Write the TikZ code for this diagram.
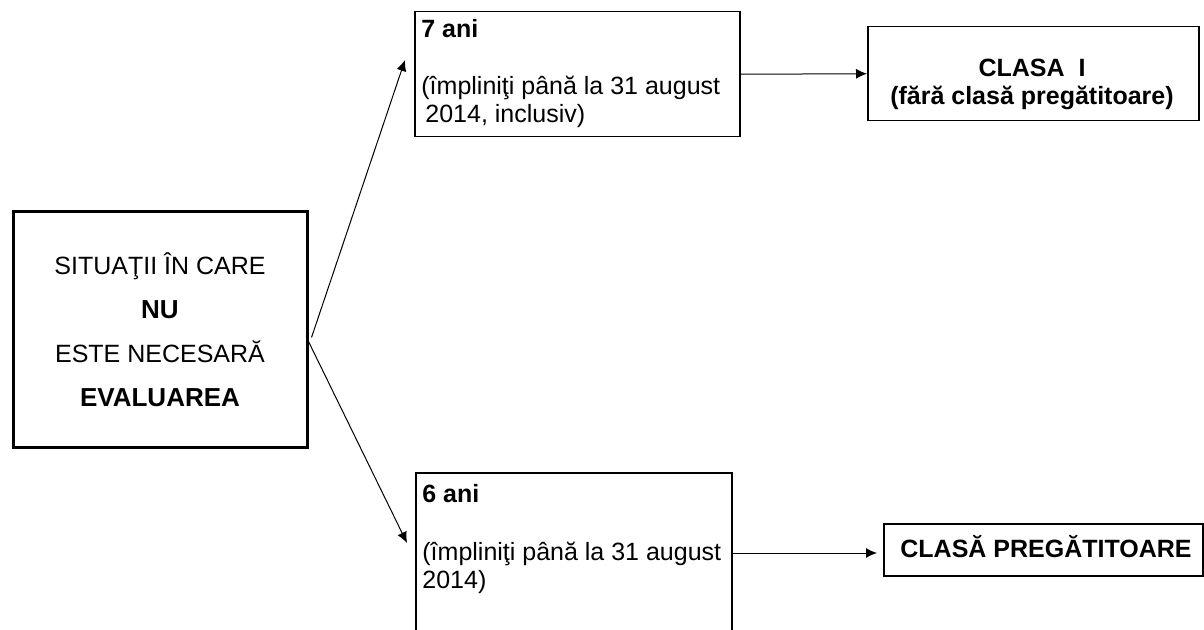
\documentclass[tikz,border=0pt]{standalone}
\usepackage{fontspec}
\setmainfont{Liberation Sans}
\usetikzlibrary{arrows.meta,calc}
\begin{document}
\begin{tikzpicture}[x=0.5pt,y=-0.5pt,
  box/.style={draw, line width=0.75pt, inner sep=0pt, rectangle, anchor=north west},
  txt/.style={inner sep=0pt, font=\fontsize{12.5}{15}\selectfont, anchor=base west},
  btxt/.style={inner sep=0pt, font=\fontsize{12.5}{15}\selectfont\bfseries, anchor=base},
  arr/.style={line width=0.5pt, -{Latex[length=5.5pt,width=5pt]}}]
\clip (0,0) rectangle (1204,630);
\fill[white] (0,0) rectangle (1204,630);

% left box
\node[draw, rectangle, line width=1.5pt, inner sep=0pt, minimum width=147pt, minimum height=117.5pt,
      align=center, font=\fontsize{12.5}{22}\selectfont] (sit) at (160,329.5)
  {SITUAŢII ÎN CARE\\ {\fontsize{13}{22}\selectfont\bfseries NU}\\ ESTE NECESARĂ\\ {\fontsize{13}{22}\selectfont\bfseries EVALUAREA}};

% top middle box
\node[box, minimum width=162.5pt, minimum height=62.5pt] (sev) at (414,11) {};
\node[txt, font=\fontsize{12.5}{15}\selectfont\bfseries] (sev1) at (421,38) {7 ani};
\node[txt] (sev2) at (421,95) {(împliniţi până la 31 august};
\node[txt] (sev3) at (425,123) {2014, inclusiv)};

% bottom middle box (runs off the page)
\node[box, minimum width=158pt, minimum height=100pt] (six) at (415,472) {};
\node[txt, font=\fontsize{12.5}{15}\selectfont\bfseries] (six1) at (422,502) {6 ani};
\node[txt] (six2) at (422,560) {(împliniţi până la 31 august};
\node[txt] (six3) at (422,588) {2014)};

% top right box
\node[box, minimum width=165.5pt, minimum height=47pt] (crt) at (867,26) {};
\node[btxt] (crt1) at (1032,77) {CLASA\ \ I};
\node[btxt] (crt2) at (1032,105) {(fără clasă pregătitoare)};

% bottom right box
\node[box, minimum width=159.5pt, minimum height=26pt] (cpr) at (883,523) {};
\node[btxt] (cpr1) at (1046,557) {CLASĂ PREGĂTITOARE};

% connectors
\coordinate (o1) at ($(sit.east)+(3,8)$);
\coordinate (o2) at ($(sit.east)+(0,12)$);
\coordinate (t1) at (405,60);
\coordinate (t2) at (407,543);
\coordinate (t4) at (877,553);
\draw[arr] (o1) -- (t1);
\draw[arr] (o2) -- (t2);
\draw[arr] (sev.east) -- (crt.west);
\draw[arr] (t4 -| six.east) -- (t4);
\end{tikzpicture}
\end{document}
